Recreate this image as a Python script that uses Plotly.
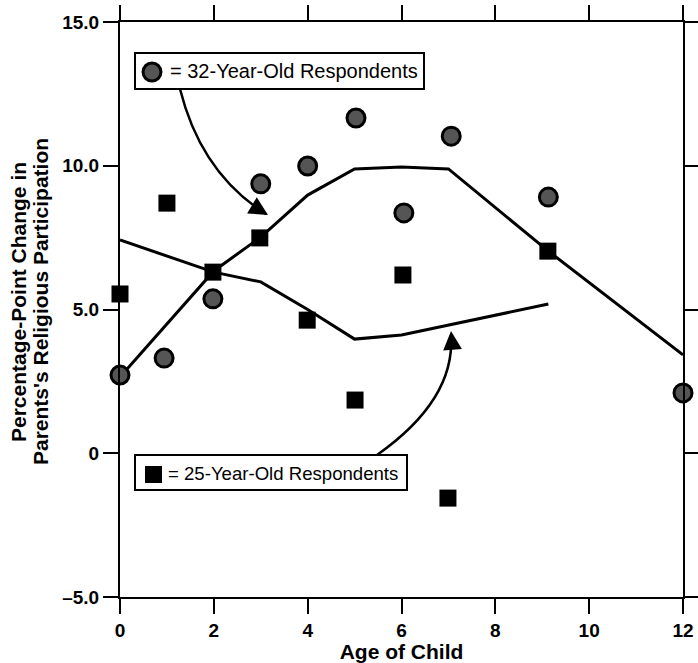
import plotly.graph_objects as go

# ---- data ----
age_32 = [0, 0.94, 1.98, 3.0, 4.0, 5.03, 6.05, 7.06, 9.13, 12]
pts_32 = [2.72, 3.31, 5.37, 9.37, 9.99, 11.66, 8.36, 11.03, 8.91, 2.10]

age_25 = [0, 1.0, 1.98, 2.98, 3.99, 5.01, 6.03, 6.99, 9.12]
pts_25 = [5.54, 8.70, 6.30, 7.49, 4.63, 1.85, 6.20, -1.56, 7.03]

line_age_32 = [0, 2, 3, 4, 5, 6, 7, 9.13, 12]
line_32 = [2.65, 6.34, 7.52, 8.98, 9.89, 9.96, 9.89, 7.03, 3.42]

line_age_25 = [0, 2, 3, 4, 5, 6, 9.13]
line_25 = [7.42, 6.30, 5.96, 5.00, 3.97, 4.11, 5.19]

x_ticks = [0, 2, 4, 6, 8, 10, 12]
y_ticks = [-5, 0, 5, 10, 15]
y_tick_text = ["\u20135.0", "0", "5.0", "10.0", "15.0"]

# ---- geometry (page pixels) ----
L, R, T, B = 120, 683, 22, 597
W, H = 698, 663


def fx(px):
    return (px - L) / (R - L)


def fy(py):
    return (B - py) / (B - T)


def dx(px):
    return fx(px) * 12


def dy(py):
    return fy(py) * 20 - 5


FONT = "Liberation Sans, Arial, Helvetica, sans-serif"

fig = go.Figure()

fig.add_trace(go.Scatter(x=line_age_32, y=line_32, mode="lines",
                         line=dict(color="black", width=3), cliponaxis=False,
                         showlegend=False, hoverinfo="skip"))
fig.add_trace(go.Scatter(x=line_age_25, y=line_25, mode="lines",
                         line=dict(color="black", width=3), cliponaxis=False,
                         showlegend=False, hoverinfo="skip"))
fig.add_trace(go.Scatter(x=age_32, y=pts_32, mode="markers", cliponaxis=False,
                         marker=dict(symbol="circle", size=18, color="#555555",
                                     line=dict(color="black", width=3)),
                         showlegend=False))
fig.add_trace(go.Scatter(x=age_25, y=pts_25, mode="markers", cliponaxis=False,
                         marker=dict(symbol="square", size=17, color="black",
                                     line=dict(color="black", width=0)),
                         showlegend=False))

shapes = []
# legend boxes
shapes.append(dict(type="rect", xref="paper", yref="paper",
                   x0=fx(135), x1=fx(424), y0=fy(89), y1=fy(53),
                   line=dict(color="black", width=2), fillcolor="white", layer="above"))
shapes.append(dict(type="rect", xref="paper", yref="paper",
                   x0=fx(135), x1=fx(407), y0=fy(490), y1=fy(455),
                   line=dict(color="black", width=2), fillcolor="white", layer="above"))
# legend glyphs
shapes.append(dict(type="circle", xref="paper", yref="paper",
                   x0=fx(143), x1=fx(161), y0=fy(81), y1=fy(63),
                   line=dict(color="black", width=3), fillcolor="#555555", layer="above"))
shapes.append(dict(type="rect", xref="paper", yref="paper",
                   x0=fx(145), x1=fx(162), y0=fy(483), y1=fy(466),
                   line=dict(color="black", width=0), fillcolor="black", layer="above"))
# curved arrow shafts
p1 = "M %f,%f Q %f,%f %f,%f" % (dx(180), dy(89), dx(201), dy(173), dx(266), dy(214))
p2 = "M %f,%f Q %f,%f %f,%f" % (dx(377), dy(455), dx(455), dy(400), dx(451), dy(336))
shapes.append(dict(type="path", xref="x", yref="y", path=p1,
                   line=dict(color="black", width=2.5)))
shapes.append(dict(type="path", xref="x", yref="y", path=p2,
                   line=dict(color="black", width=2.5)))

annotations = [
    dict(xref="paper", yref="paper", x=fx(168), y=fy(71), xanchor="left", yanchor="middle",
         text="= 32-Year-Old Respondents", showarrow=False,
         font=dict(family=FONT, size=20, color="black")),
    dict(xref="paper", yref="paper", x=fx(166), y=fy(473), xanchor="left", yanchor="middle",
         text="= 25-Year-Old Respondents", showarrow=False,
         font=dict(family=FONT, size=18.6, color="black")),
    # y-axis title, two tightly spaced lines
    dict(xref="paper", yref="paper", x=fx(18), y=fy(302), xanchor="center", yanchor="middle",
         text="Percentage-Point Change in", textangle=-90, showarrow=False,
         font=dict(family=FONT, size=21, weight="bold", color="black")),
    dict(xref="paper", yref="paper", x=fx(40), y=fy(302), xanchor="center", yanchor="middle",
         text="Parents's Religious Participation", textangle=-90, showarrow=False,
         font=dict(family=FONT, size=21, weight="bold", color="black")),
    # arrow heads
    dict(x=dx(268), y=dy(215), xref="x", yref="y", ax=-10, ay=-6, text="",
         showarrow=True, arrowhead=2, arrowsize=1.5, arrowwidth=2.5, arrowcolor="black",
         standoff=0),
    dict(x=dx(451), y=dy(331), xref="x", yref="y", ax=1, ay=12, text="",
         showarrow=True, arrowhead=2, arrowsize=1.5, arrowwidth=2.5, arrowcolor="black",
         standoff=0),
]

fig.update_layout(
    width=W, height=H,
    margin=dict(l=L, r=W - R, t=T, b=H - B, pad=0, autoexpand=False),
    paper_bgcolor="white", plot_bgcolor="white",
    shapes=shapes, annotations=annotations,
    font=dict(family=FONT, color="black"),
    xaxis=dict(range=[0, 12], tickvals=x_ticks, ticks="outside", ticklen=15, tickwidth=2,
               tickcolor="black", showline=True, linecolor="black", linewidth=2,
               mirror="ticks", showgrid=False, zeroline=False, automargin=False,
               tickfont=dict(family=FONT, size=19, weight="bold"),
               title=dict(text="Age of Child", standoff=9,
                          font=dict(family=FONT, size=21, weight="bold"))),
    yaxis=dict(range=[-5, 15], tickvals=y_ticks, ticktext=y_tick_text, ticks="outside",
               ticklen=15, tickwidth=2, tickcolor="black", showline=True,
               linecolor="black", linewidth=2, mirror="ticks", showgrid=False,
               zeroline=False, automargin=False,
               tickfont=dict(family=FONT, size=19, weight="bold")),
)

fig.write_html(
    "out.html",
    config={"displayModeBar": False},
    post_script="document.body.style.margin='0';document.body.style.overflow='hidden';",
)
